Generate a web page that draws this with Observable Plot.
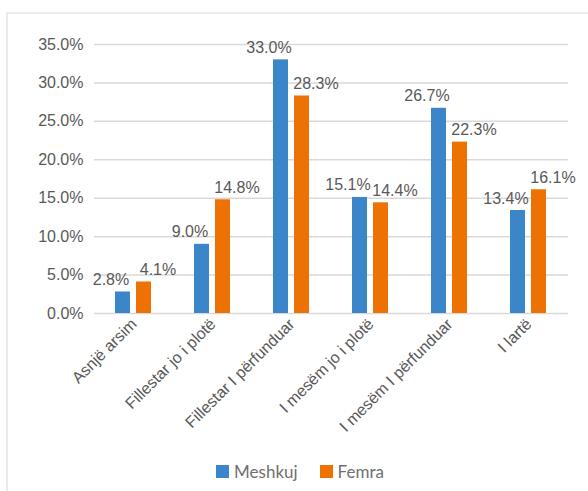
<!DOCTYPE html>
<html>
<head>
<meta charset="utf-8">
<script src="https://cdn.jsdelivr.net/npm/d3@7"></script>
<script src="https://cdn.jsdelivr.net/npm/@observablehq/plot@0.6"></script>
<style>
  body { margin: 0; background: #fff; }
  #wrap { position: relative; width: 588px; height: 491px; overflow: hidden; background: #fff; }
  #frame { position: absolute; left: 6px; top: 12px; width: 600px; height: 500px; border: 2px solid #ebebeb; box-sizing: border-box; }
  #chart { position: absolute; left: 0; top: 0; }
  #legend { position: absolute; left: 0; top: 461px; width: 600px; display: flex; justify-content: center; align-items: center;
            font-family: Lato, "Open Sans", sans-serif; font-size: 17px; color: #6f6f6f; }
  .item { display: flex; align-items: center; margin: 0 11px; }
  .sw { width: 13px; height: 13px; margin-right: 5px; }
</style>
</head>
<body>
<div id="wrap">
  <div id="frame"></div>
  <div id="chart"></div>
  <div id="legend"></div>
</div>
<script>
const categories = ["Asnjë arsim", "Fillestar jo i plotë", "Fillestar I përfunduar", "I mesëm jo i plotë", "I mesëm I përfunduar", "I lartë"];
const seriesNames = ["Meshkuj", "Femra"];
const meshkuj = [2.8, 9.0, 33.0, 15.1, 26.7, 13.4];
const femra = [4.1, 14.8, 28.3, 14.4, 22.3, 16.1];
const yTicks = [0, 5, 10, 15, 20, 25, 30, 35];
const colors = ["#3b86c9", "#ee7203"];

const rows = [];
categories.forEach((c, i) => {
  rows.push({category: c, series: seriesNames[0], value: meshkuj[i]});
  rows.push({category: c, series: seriesNames[1], value: femra[i]});
});
const fmt = v => v.toFixed(1) + "%";

const chart = Plot.plot({
  width: 588,
  height: 440,
  marginLeft: 93,
  marginRight: 20,
  marginTop: 44,
  marginBottom: 127,
  style: {fontFamily: "'Liberation Sans', Arial, sans-serif", fontSize: "16px", color: "#595959", background: "transparent"},
  fx: {domain: categories, paddingInner: 0, paddingOuter: 0, label: null},
  x: {domain: seriesNames, paddingInner: 0.27, paddingOuter: 0.935, axis: null},
  y: {domain: [0, 35], label: null},
  color: {domain: seriesNames, range: colors},
  marks: [
    Plot.gridY(yTicks, {stroke: "#d9d9d9", strokeOpacity: 1, strokeWidth: 1.5}),
    Plot.axisY(yTicks, {tickFormat: fmt, tickSize: 0, tickPadding: 11, label: null}),
    Plot.axisFx({anchor: "bottom", tickRotate: -45, tickSize: 0, tickPadding: 8, label: null}),
    Plot.barY(rows, {fx: "category", x: "series", y: "value", fill: "series"}),
    Plot.text(rows.filter(d => d.series === seriesNames[0]), {fx: "category", x: "series", y: "value", text: d => fmt(d.value), dx: -12, dy: -7, lineAnchor: "bottom", fill: "#595959"}),
    Plot.text(rows.filter(d => d.series === seriesNames[1]), {fx: "category", x: "series", y: "value", text: d => fmt(d.value), dx: 14, dy: -7, lineAnchor: "bottom", fill: "#595959"})
  ]
});
document.getElementById("chart").appendChild(chart);

const legend = document.getElementById("legend");
seriesNames.forEach((s, i) => {
  const item = document.createElement("div");
  item.className = "item";
  const sw = document.createElement("div");
  sw.className = "sw";
  sw.style.background = colors[i];
  const t = document.createElement("span");
  t.textContent = s;
  item.appendChild(sw);
  item.appendChild(t);
  legend.appendChild(item);
});
</script>
</body>
</html>
